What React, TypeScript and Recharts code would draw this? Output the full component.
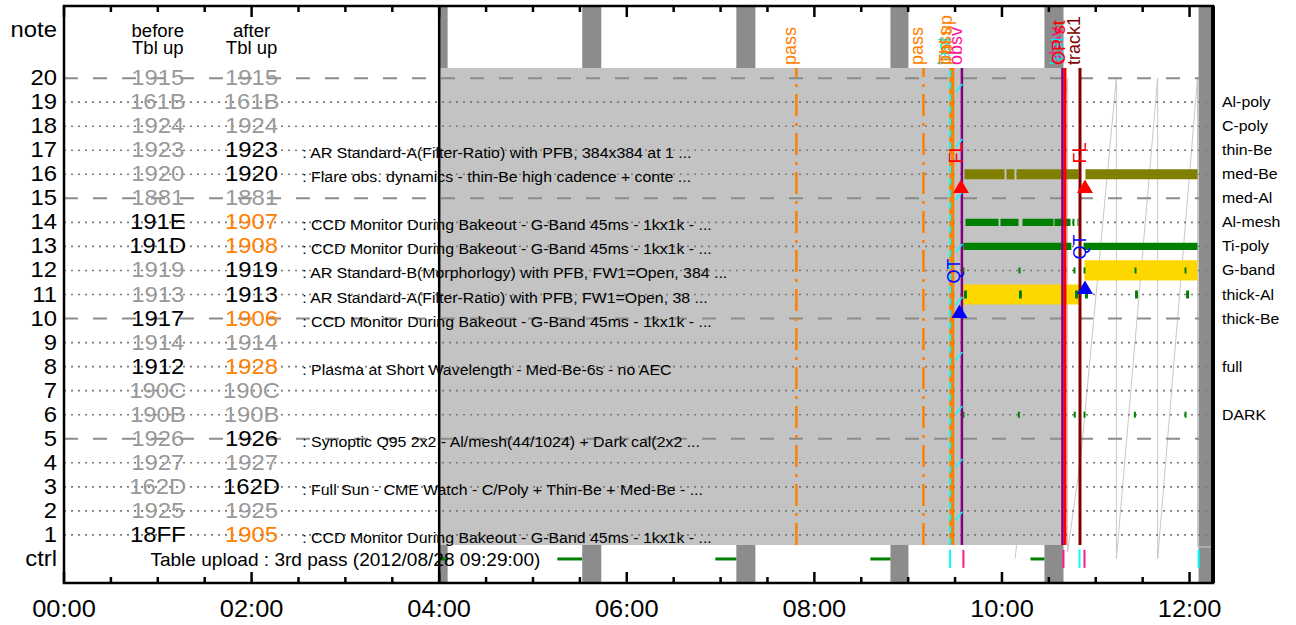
import React from "react";
import {
  ComposedChart,
  XAxis,
  YAxis,
  ReferenceArea,
  ReferenceLine,
  Scatter,
} from "recharts";

const FONT = '"Liberation Sans", Arial, Helvetica, sans-serif';
// glyphs in the original plot are a bit wider than Arial
const STRETCH = 1.06;

// time axis, hours since 00:00
const HOUR_TICKS = [0, 0.5, 1, 1.5, 2, 2.5, 3, 3.5, 4, 4.5, 5, 5.5, 6, 6.5, 7, 7.5, 8, 8.5, 9, 9.5, 10, 10.5, 11, 11.5, 12];
const HOUR_LABELS = [0, 2, 4, 6, 8, 10, 12];

// rows (0 = ctrl, 22 = header)
const ROW_TICKS = [0, 1, 2, 3, 4, 5, 6, 7, 8, 9, 10, 11, 12, 13, 14, 15, 16, 17, 18, 19, 20, 22];
const DASHED_ROWS = [20, 15, 10, 5];
const DOTTED_ROWS = [19, 18, 17, 16, 14, 13, 12, 11, 9, 8, 7, 6, 4, 3, 2, 1];

const FILTER_ROWS = [19, 18, 17, 16, 15, 14, 13, 12, 11, 10, 8, 6];
const FILTER_NAMES = ["Al-poly", "C-poly", "thin-Be", "med-Be", "med-Al", "Al-mesh", "Ti-poly", "G-band", "thick-Al", "thick-Be", "full", "DARK"];

// program table
const TABLE_ROWS = [20, 19, 18, 17, 16, 15, 14, 13, 12, 11, 10, 9, 8, 7, 6, 5, 4, 3, 2, 1];
const BEFORE_IDS = ["1915", "161B", "1924", "1923", "1920", "1881", "191E", "191D", "1919", "1913", "1917", "1914", "1912", "190C", "190B", "1926", "1927", "162D", "1925", "18FF"];
const AFTER_IDS = ["1915", "161B", "1924", "1923", "1920", "1881", "1907", "1908", "1919", "1913", "1906", "1914", "1928", "190C", "190B", "1926", "1927", "162D", "1925", "1905"];
const ROW_STATE = ["idle", "idle", "idle", "kept", "kept", "idle", "swap", "swap", "kept", "kept", "swap", "idle", "swap", "idle", "idle", "kept", "idle", "kept", "idle", "swap"];
const PROGRAMS = [
  "",
  "",
  "",
  ": AR Standard-A(Filter-Ratio) with PFB, 384x384 at 1 ...",
  ": Flare obs. dynamics - thin-Be high cadence + conte ...",
  "",
  ": CCD Monitor During Bakeout - G-Band 45ms - 1kx1k - ...",
  ": CCD Monitor During Bakeout - G-Band 45ms - 1kx1k - ...",
  ": AR Standard-B(Morphorlogy) with PFB, FW1=Open, 384 ...",
  ": AR Standard-A(Filter-Ratio) with PFB, FW1=Open, 38 ...",
  ": CCD Monitor During Bakeout - G-Band 45ms - 1kx1k - ...",
  "",
  ": Plasma at Short Wavelength - Med-Be-6s - no AEC",
  "",
  "",
  ": Synoptic Q95 2x2 - Al/mesh(44/1024) + Dark cal(2x2 ...",
  "",
  ": Full Sun - CME Watch - C/Poly + Thin-Be + Med-Be - ...",
  "",
  ": CCD Monitor During Bakeout - G-Band 45ms - 1kx1k - ...",
];
const CTRL_NOTE = "Table upload : 3rd pass (2012/08/28 09:29:00)";
const BEFORE_COL = 1.0;
const AFTER_COL = 2.0;
const NOTE_COL = 2.54;
const CTRL_COL = 3.0;

// night (dark) bands and the uploaded-table span
const BANDS = [[3.99, 4.09], [5.525, 5.728], [7.168, 7.371], [8.811, 9.003], [10.453, 10.656], [12.096, 12.25]];
const TABLE_SPAN = [4.0, 10.65];
const TABLE_ROWS_SPAN = [0.58, 20.42];

// ctrl row
const CTRL_DASHES = [[4.01, 4.09], [5.26, 5.525], [6.944, 7.168], [8.597, 8.811], [10.304, 10.453]];
const CTRL_MARKS = [
  { t: 9.447, kind: "cyan" },
  { t: 9.589, kind: "pink" },
  { t: 10.656, kind: "pink" },
  { t: 10.827, kind: "cyan" },
  { t: 10.88, kind: "pink" },
  { t: 12.096, kind: "cyan" },
];

// event lines and their labels
const EVENT_LINES = [
  { t: 7.808, kind: "pass" },
  { t: 9.163, kind: "pass" },
  { t: 9.465, kind: "tblup" },
  { t: 9.447, kind: "cyan" },
  { t: 9.573, kind: "obsv" },
  { t: 10.645, kind: "obsv" },
  { t: 10.672, kind: "opst" },
  { t: 10.832, kind: "track" },
];
const TOP_LABELS = [
  { t: 7.808, text: "pass", kind: "pass" },
  { t: 9.163, text: "pass", kind: "pass" },
  { t: 9.447, text: "last", kind: "cyan" },
  { t: 9.455, text: "pass", kind: "pass" },
  { t: 9.465, text: "Tbl up", kind: "tblup" },
  { t: 9.573, text: "obsv", kind: "obsvText" },
  { t: 10.645, text: "obsv", kind: "obsvText" },
  { t: 10.655, text: "last", kind: "cyan" },
  { t: 10.672, text: "OP st", kind: "opst" },
  { t: 10.832, text: "track1", kind: "track" },
];
const CYAN_SLASH_ROWS = [19.59, 17.3, 15.1, 12.93, 10.73, 8.44, 6.19, 3.99, 1.79];
const SLASH_SPAN = [9.504, 9.579];

// flare / quiet triggers
const TRIGGERS = [
  { x: 9.563, y: 15.49, kind: "FL" },
  { x: 10.885, y: 15.49, kind: "FL" },
  { x: 9.547, y: 10.29, kind: "QT" },
  { x: 10.885, y: 11.29, kind: "QT" },
];

// filter usage
const OLIVE_16 = [[9.6, 10.027], [10.048, 10.133], [10.155, 10.816], [10.89, 12.085]];
const GREEN_14 = [[9.611, 9.963], [9.984, 10.176], [10.219, 10.549], [10.56, 10.731], [10.752, 10.773], [10.805, 10.816]];
const GREEN_13 = [[9.589, 10.74], [10.87, 12.085]];
const YELLOW_12 = [[10.88, 12.085]];
const YELLOW_11 = [[9.589, 10.837]];
const TICKS_12 = [9.589, 10.187, 10.773, 10.88, 11.424, 11.957];
const TICKS_11 = [9.611, 10.197, 10.795, 10.901, 11.435, 11.979];
const TICKS_6 = [9.589, 10.18, 10.776, 10.88, 11.417, 11.957];

// sawtooth trace
const SAW = [[10.14, 0], [10.7, 20], [10.7, 0.3], [10.84, 4.2], [11.22, 20], [11.22, 0], [11.66, 20], [11.66, 0], [12.085, 20], [12.085, 0.5], [12.25, 0.5]];

const LINE_STYLE: Record<string, { stroke: string; width: number; dash?: string }> = {
  pass: { stroke: "#FF8000", width: 2.5, dash: "22 7 3 7" },
  tblup: { stroke: "#FF8000", width: 5 },
  cyan: { stroke: "#00FFFF", width: 2, dash: "7 5" },
  obsv: { stroke: "#800080", width: 2.5 },
  opst: { stroke: "#FF0000", width: 3 },
  track: { stroke: "#800000", width: 3 },
};
const LABEL_COLOR: Record<string, string> = {
  pass: "#FF8000",
  tblup: "#FF8000",
  cyan: "#00E5EE",
  obsvText: "#FF1493",
  opst: "#FF0000",
  track: "#800000",
};
const MARK_COLOR: Record<string, string> = { cyan: "#00FFFF", pink: "#FF1493" };
const TONE: Record<string, string> = { off: "#999999", on: "#000000", new: "#FF8000" };

type TxtProps = {
  x: number;
  y: number;
  size: number;
  color?: string;
  anchor?: "start" | "middle" | "end";
  dy?: number;
  rotate?: boolean;
  children: React.ReactNode;
};

function Txt({ x, y, size, color = "#000", anchor = "start", dy = 0, rotate = false, children }: TxtProps) {
  const transform = rotate
    ? `translate(${x},${y}) rotate(-90)`
    : `translate(${x},${y}) scale(${STRETCH},1)`;
  return (
    <text transform={transform} dy={dy} fontSize={size} fill={color} textAnchor={anchor} fontFamily={FONT}>
      {children}
    </text>
  );
}

const hh = (v: number) => `${String(v).padStart(2, "0")}:00`;

const BottomTick = (p: any) => {
  const v = p.payload.value;
  const major = HOUR_LABELS.includes(v);
  return (
    <g>
      <line x1={p.x} x2={p.x} y1={p.y} y2={p.y - (major ? 11 : 6)} stroke="#000" strokeWidth={2.5} />
      {major && (
        <Txt x={p.x} y={p.y + 34} size={24} anchor="middle">
          {hh(v)}
        </Txt>
      )}
    </g>
  );
};

const TopTick = (p: any) => {
  const major = HOUR_LABELS.includes(p.payload.value);
  return <line x1={p.x} x2={p.x} y1={p.y} y2={p.y + (major ? 11 : 6)} stroke="#000" strokeWidth={2.5} />;
};

const LeftTick = (p: any) => {
  const v = p.payload.value;
  const s = v === 0 ? "ctrl" : v === 22 ? "note" : String(v);
  return (
    <Txt x={p.x - 7} y={p.y} dy={7} size={22.5} anchor="end">
      {s}
    </Txt>
  );
};

const RightTick = (p: any) => {
  const i = FILTER_ROWS.indexOf(p.payload.value);
  return (
    <Txt x={p.x + 9} y={p.y} dy={5} size={15}>
      {FILTER_NAMES[i]}
    </Txt>
  );
};

const tableText: any[] = [
  { x: BEFORE_COL, y: 22, text: "before", role: "head1" },
  { x: BEFORE_COL, y: 22, text: "Tbl up", role: "head2" },
  { x: AFTER_COL, y: 22, text: "after", role: "head1" },
  { x: AFTER_COL, y: 22, text: "Tbl up", role: "head2" },
  { x: CTRL_COL, y: 0, text: CTRL_NOTE, role: "ctrl" },
];
TABLE_ROWS.forEach((row, i) => {
  const st = ROW_STATE[i];
  tableText.push({ x: BEFORE_COL, y: row, text: BEFORE_IDS[i], role: "id", tone: st === "swap" ? "on" : "off" });
  tableText.push({
    x: AFTER_COL,
    y: row,
    text: AFTER_IDS[i],
    role: "id",
    tone: st === "idle" ? "off" : st === "swap" ? "new" : "on",
  });
  if (PROGRAMS[i]) tableText.push({ x: NOTE_COL, y: row, text: PROGRAMS[i], role: "note" });
});

const TableShape = (p: any) => {
  const { cx, cy, payload: d } = p;
  if (d.role === "head1") return <Txt x={cx} y={cy + 7} size={17.5} anchor="middle">{d.text}</Txt>;
  if (d.role === "head2") return <Txt x={cx} y={cy + 24} size={17.5} anchor="middle">{d.text}</Txt>;
  if (d.role === "ctrl") return <Txt x={cx} y={cy + 7} size={18} anchor="middle">{d.text}</Txt>;
  if (d.role === "note") return <Txt x={cx} y={cy + 8} size={15}>{d.text}</Txt>;
  return (
    <Txt x={cx} y={cy} dy={7} size={22.5} anchor="middle" color={TONE[d.tone]}>
      {d.text}
    </Txt>
  );
};

const topLabelData = TOP_LABELS.map((l) => ({ x: l.t, y: TABLE_ROWS_SPAN[1], text: l.text, kind: l.kind }));
const TopLabelShape = (p: any) => (
  <Txt x={p.cx} y={p.cy - 3} size={18} color={LABEL_COLOR[p.payload.kind]} rotate>
    {p.payload.text}
  </Txt>
);

const TriggerShape = (p: any) => {
  const { cx, cy, payload } = p;
  const color = payload.kind === "FL" ? "#FF0000" : "#0000FF";
  return (
    <g>
      <path d={`M${cx},${cy - 7} L${cx + 8},${cy + 6.5} L${cx - 8},${cy + 6.5} Z`} fill={color} />
      <Txt x={cx + 1} y={cy - (payload.kind === "FL" ? 23 : 28)} size={18} color={color} rotate>
        {payload.kind}
      </Txt>
    </g>
  );
};

const greenTicks = [
  ...TICKS_12.map((x) => ({ x, y: 12 })),
  ...TICKS_11.map((x) => ({ x, y: 11 })),
  ...TICKS_6.map((x) => ({ x, y: 6 })),
];
const GreenTickShape = (p: any) => {
  const big = p.payload.y === 11;
  const w = big ? 3 : 2;
  const h = big ? 8 : 6;
  return <rect x={p.cx - w / 2} y={p.cy - h / 2} width={w} height={h} fill="#008000" />;
};

const bars = (spans: number[][], row: number, half: number, fill: string, key: string, z: number) =>
  spans.map(([a, b], i) => (
    <ReferenceArea
      key={`${key}${i}`}
      x1={a}
      x2={b}
      y1={row - half}
      y2={row + half}
      fill={fill}
      fillOpacity={1}
      stroke="none"
      zIndex={z}
    />
  ));

export default function App() {
  return (
    <div style={{ position: "absolute", left: 0, top: 0, width: 1296, height: 625, background: "#fff" }}>
      <ComposedChart width={1296} height={625} margin={{ top: 0, right: 0, bottom: 0, left: 0 }}>
        <XAxis
          dataKey="x"
          type="number"
          domain={[0, 12.25]}
          allowDataOverflow
          ticks={HOUR_TICKS}
          interval={0}
          height={42}
          axisLine={false}
          tickLine={false}
          tickSize={0}
          tickMargin={0}
          tick={BottomTick}
        />
        <XAxis
          xAxisId="top"
          orientation="top"
          dataKey="x"
          type="number"
          domain={[0, 12.25]}
          allowDataOverflow
          ticks={HOUR_TICKS}
          interval={0}
          height={6}
          axisLine={false}
          tickLine={false}
          tickSize={0}
          tickMargin={0}
          tick={TopTick}
        />
        <YAxis
          dataKey="y"
          type="number"
          domain={[-1, 23]}
          allowDataOverflow
          ticks={ROW_TICKS}
          interval={0}
          width={64}
          axisLine={false}
          tickLine={false}
          tickSize={0}
          tickMargin={0}
          tick={LeftTick}
        />
        <YAxis
          yAxisId="r"
          orientation="right"
          dataKey="y"
          type="number"
          domain={[-1, 23]}
          allowDataOverflow
          ticks={FILTER_ROWS}
          interval={0}
          width={83}
          axisLine={false}
          tickLine={false}
          tickSize={0}
          tickMargin={0}
          tick={RightTick}
        />

        {BANDS.map(([a, b], i) => (
          <ReferenceArea key={`band${i}`} x1={a} x2={b} y1={-1} y2={23} fill="#8C8C8C" fillOpacity={1} stroke="none" zIndex={10} />
        ))}

        {SAW.slice(1).map((pt, i) => (
          <ReferenceLine
            key={`saw${i}`}
            segment={[{ x: SAW[i][0], y: SAW[i][1] }, { x: pt[0], y: pt[1] }]}
            stroke="#C8C8C8"
            strokeWidth={1}
            zIndex={20}
          />
        ))}

        <ReferenceArea
          x1={TABLE_SPAN[0]}
          x2={TABLE_SPAN[1]}
          y1={TABLE_ROWS_SPAN[0]}
          y2={TABLE_ROWS_SPAN[1]}
          fill="#C3C3C3"
          fillOpacity={1}
          stroke="none"
          zIndex={30}
        />

        {CTRL_DASHES.map(([a, b], i) => (
          <ReferenceLine key={`cd${i}`} segment={[{ x: a, y: 0 }, { x: b, y: 0 }]} stroke="#008000" strokeWidth={3} zIndex={35} />
        ))}

        {DASHED_ROWS.map((r) => (
          <ReferenceLine key={`gd${r}`} y={r} stroke="#8C8C8C" strokeWidth={2} strokeDasharray="14 15" zIndex={40} />
        ))}
        {DOTTED_ROWS.map((r) => (
          <ReferenceLine key={`gt${r}`} y={r} stroke="#7A7A7A" strokeWidth={1.6} strokeDasharray="2 5" zIndex={41} />
        ))}

        {bars(OLIVE_16, 16, 0.21, "#808000", "ol", 50)}
        {bars(GREEN_14, 14, 0.15, "#008000", "g14", 50)}
        {bars(GREEN_13, 13, 0.15, "#008000", "g13", 50)}
        {bars(YELLOW_12, 12, 0.42, "#FFD700", "y12", 50)}
        {bars(YELLOW_11, 11, 0.42, "#FFD700", "y11", 50)}

        <Scatter data={greenTicks} shape={GreenTickShape} isAnimationActive={false} zIndex={55} />

        <ReferenceLine x={TABLE_SPAN[0]} stroke="#000" strokeWidth={2.5} zIndex={60} />
        {EVENT_LINES.map((e, i) => {
          const s = LINE_STYLE[e.kind];
          return (
            <ReferenceLine
              key={`ev${i}`}
              segment={[{ x: e.t, y: TABLE_ROWS_SPAN[0] }, { x: e.t, y: TABLE_ROWS_SPAN[1] }]}
              stroke={s.stroke}
              strokeWidth={s.width}
              strokeDasharray={s.dash}
              zIndex={61 + i}
            />
          );
        })}

        {CYAN_SLASH_ROWS.map((r, i) => (
          <ReferenceLine
            key={`sl${i}`}
            segment={[{ x: SLASH_SPAN[0], y: r - 0.17 }, { x: SLASH_SPAN[1], y: r + 0.17 }]}
            stroke="#00FFFF"
            strokeWidth={1.5}
            zIndex={75}
          />
        ))}

        {CTRL_MARKS.map((m, i) => (
          <ReferenceLine
            key={`cm${i}`}
            segment={[{ x: m.t, y: -0.37 }, { x: m.t, y: 0.38 }]}
            stroke={MARK_COLOR[m.kind]}
            strokeWidth={2}
            zIndex={76}
          />
        ))}

        <Scatter data={topLabelData} shape={TopLabelShape} isAnimationActive={false} zIndex={80} />
        <Scatter data={TRIGGERS} shape={TriggerShape} isAnimationActive={false} zIndex={85} />
        <Scatter data={tableText} shape={TableShape} isAnimationActive={false} zIndex={90} />

        <ReferenceArea x1={0} x2={12.25} y1={-1} y2={23} fill="none" stroke="#000" strokeWidth={2.5} zIndex={1000} />
        <ReferenceLine x={12.25} stroke="#000" strokeWidth={4} zIndex={1001} />
      </ComposedChart>
    </div>
  );
}
